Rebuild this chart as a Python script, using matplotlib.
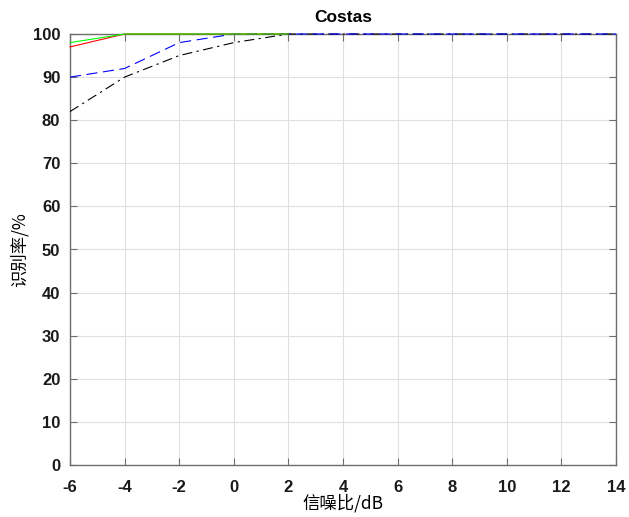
import matplotlib
matplotlib.use("Agg")
import matplotlib.pyplot as plt

plt.rcParams['font.family'] = ['Liberation Sans', 'Noto Sans CJK SC', 'DejaVu Sans']
plt.rcParams['axes.unicode_minus'] = False

snr_full = [-6, -4, -2, 0, 2, 4, 6, 8, 10, 12, 14]
snr_short = [-6, -4, -2, 0, 2]
black_vals = [82, 90, 95, 98, 100, 100, 100, 100, 100, 100, 100]
blue_vals = [90, 92, 98, 100, 100, 100, 100, 100, 100, 100, 100]
red_vals = [97, 100, 100, 100, 100]
green_vals = [98, 100, 100, 100, 100]

xticks = [-6, -4, -2, 0, 2, 4, 6, 8, 10, 12, 14]
yticks = [0, 10, 20, 30, 40, 50, 60, 70, 80, 90, 100]

fig = plt.figure(figsize=(6.29, 5.17), dpi=100)
ax = fig.add_axes([70/629, 52/517, 546/629, 431/517])

ax.plot(snr_full, black_vals, color='k', linestyle=(0, (9, 4, 2, 4)), linewidth=0.8, clip_on=False, zorder=5)
ax.plot(snr_full, blue_vals, color='b', linestyle=(0, (10, 5)), linewidth=0.8, clip_on=False, zorder=5)
ax.plot(snr_short, red_vals, color='r', linestyle='-', linewidth=0.8, clip_on=False, zorder=5)
ax.plot(snr_short, green_vals, color='#00ff00', linestyle='-', linewidth=0.8, clip_on=False, zorder=5)

ax.set_xlim(-6, 14)
ax.set_ylim(0, 100)
ax.set_xticks(xticks)
ax.set_yticks(yticks)
ax.grid(True, color='#e0e0e0', linewidth=0.8)
ax.set_axisbelow(True)
for s in ax.spines.values():
    s.set_color('#6e6e6e')
    s.set_linewidth(1.0)
ax.tick_params(direction='in', top=True, right=True, length=5, width=0.8, color='#6e6e6e',
               labelsize=12, labelcolor='#1a1a1a')
ax.tick_params(axis='x', pad=11)
ax.tick_params(axis='y', pad=7)
for lab in ax.get_xticklabels() + ax.get_yticklabels():
    lab.set_fontweight('bold')

ax.set_title('Costas', fontsize=12.5, fontweight='bold', pad=9)
ax.set_xlabel('信噪比/dB', fontsize=12.5, family=['Noto Sans CJK SC', 'DejaVu Sans'], labelpad=-1)
ax.set_ylabel('识别率/%', fontsize=12.5, family=['Noto Sans CJK SC', 'DejaVu Sans'], labelpad=3)

fig.savefig('out.png', dpi=100)
